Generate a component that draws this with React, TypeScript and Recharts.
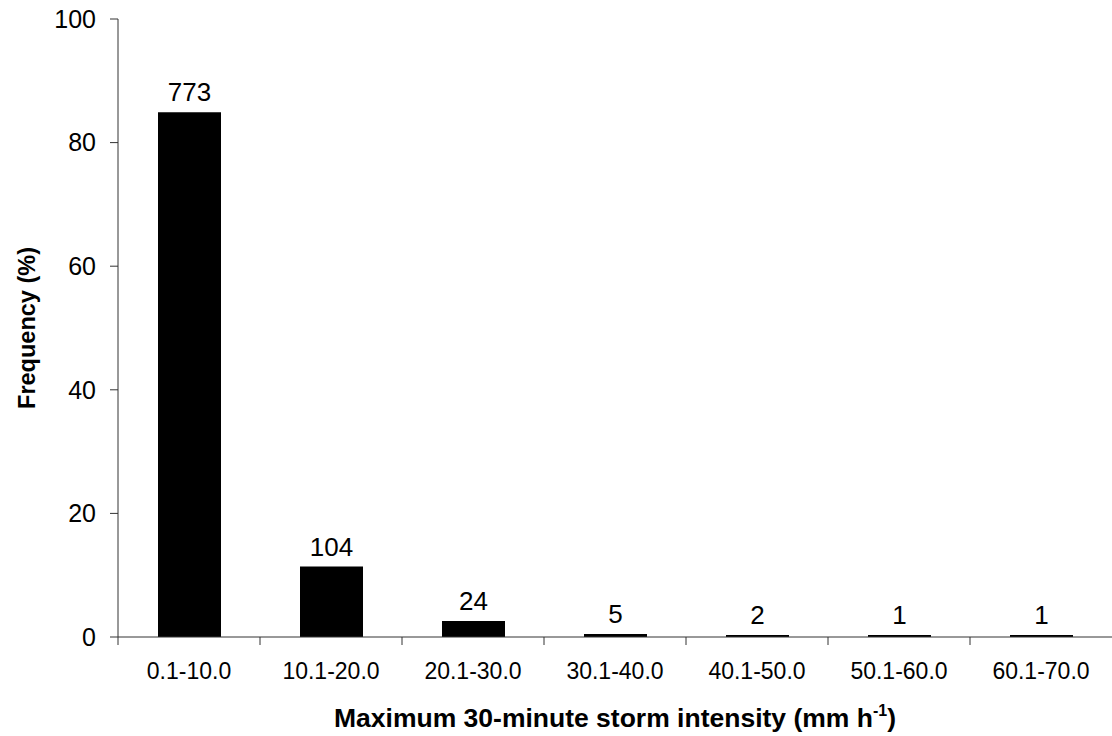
import { BarChart, Bar, XAxis, YAxis, LabelList, Label } from "recharts";

const categories = ["0.1-10.0", "10.1-20.0", "20.1-30.0", "30.1-40.0", "40.1-50.0", "50.1-60.0", "60.1-70.0"];
const frequency = [84.9, 11.4, 2.6, 0.5, 0.2, 0.1, 0.1];
const counts = [773, 104, 24, 5, 2, 1, 1];
const yTicks = [0, 20, 40, 60, 80, 100];

const data = categories.map((name, i) => ({ name, value: frequency[i], count: counts[i] }));

const W = 1112;
const H = 736;
const LEFT = 118;
const STEP = (W - LEFT) / categories.length;
const FONT = "'Liberation Sans', Arial, sans-serif";
const AXIS = "#333";

const CategoryTick = (props: any) => {
  const { x, y, payload } = props;
  const bx = x - STEP / 2;
  return (
    <g>
      <line x1={bx} y1={y} x2={bx} y2={y + 8} stroke={AXIS} />
      <text x={x} y={y + 42} textAnchor="middle" fontSize={23} fontFamily={FONT} fill="#000">
        {payload.value}
      </text>
    </g>
  );
};

const XTitle = (props: any) => {
  const { viewBox } = props;
  const cx = viewBox.x + viewBox.width / 2;
  return (
    <text x={cx} y={727} textAnchor="middle" fontSize={26.5} fontWeight="bold" fontFamily={FONT} fill="#000">
      Maximum 30-minute storm intensity (mm h
      <tspan dy={-11} fontSize={16}>-1</tspan>
      <tspan dy={11}>)</tspan>
    </text>
  );
};

const YTitle = (props: any) => {
  const { viewBox } = props;
  const cy = viewBox.y + viewBox.height / 2;
  return (
    <text
      x={35}
      y={cy}
      transform={`rotate(-90 35 ${cy})`}
      textAnchor="middle"
      fontSize={23.5}
      fontWeight="bold"
      fontFamily={FONT}
      fill="#000"
    >
      Frequency (%)
    </text>
  );
};

export default function App() {
  return (
    <div style={{ position: "absolute", left: 0, top: 0, background: "#fff" }}>
      <BarChart width={W} height={H} data={data} margin={{ top: 19, right: 0, bottom: 0, left: 0 }}>
        <XAxis
          dataKey="name"
          height={99}
          stroke={AXIS}
          tickLine={false}
          tickSize={0}
          tickMargin={0}
          tick={<CategoryTick />}
          interval={0}
        >
          <Label content={<XTitle />} />
        </XAxis>
        <YAxis
          width={LEFT}
          domain={[0, 100]}
          ticks={yTicks}
          stroke={AXIS}
          tickSize={8}
          tickMargin={14}
          tick={{ fontSize: 25, fontFamily: FONT, fill: "#000" }}
          interval={0}
        >
          <Label content={<YTitle />} />
        </YAxis>
        <Bar dataKey="value" fill="#000" barSize={63} minPointSize={2} isAnimationActive={false}>
          <LabelList dataKey="count" position="top" offset={11} fontSize={26} fontFamily={FONT} fill="#000" />
        </Bar>
      </BarChart>
    </div>
  );
}
